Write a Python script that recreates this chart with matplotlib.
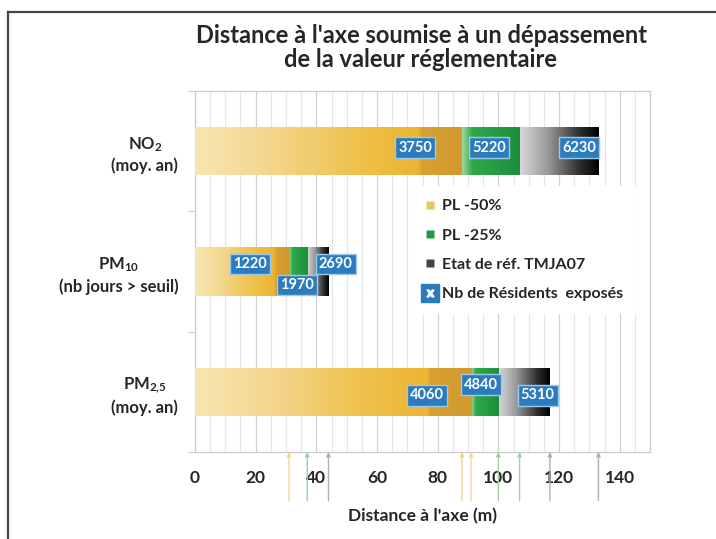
import numpy as np
import matplotlib
matplotlib.use("Agg")
import matplotlib.pyplot as plt
from matplotlib.colors import LinearSegmentedColormap
from matplotlib.lines import Line2D
from matplotlib.legend_handler import HandlerTuple

plt.rcParams['font.family'] = ['Lato', 'DejaVu Sans']
plt.rcParams['font.weight'] = 'bold'
plt.rcParams['mathtext.fontset'] = 'custom'
plt.rcParams['mathtext.rm'] = 'Lato:bold'
plt.rcParams['mathtext.it'] = 'Lato:bold'
plt.rcParams['mathtext.bf'] = 'Lato:bold'

# data
pollutants = ["NO$_2$\n(moy. an)", "PM$_{10}$\n(nb jours > seuil)", "PM$_{2,\\!5}$\n(moy. an)"]
series = ["PL -50%", "PL -25%", "Etat de réf. TMJA07"]
dist_pl50 = [88, 31, 91]
dist_pl25 = [107, 37, 100]
dist_ref = [133, 44, 117]
res_pl50 = [3750, 1220, 4060]
res_pl25 = [5220, 1970, 4840]
res_ref = [6230, 2690, 5310]
xticks = [0, 20, 40, 60, 80, 100, 120, 140]

# label placement (offset from bar end, in m / in category units)
lab_dx = [[-15.4, -10, -6.4], [-13, -3.4, 2.4], [-14.6, -5.7, -4]]
lab_dy = [[-0.03, -0.03, -0.03], [-0.06, 0.11, -0.06], [0.03, -0.06, 0.03]]

cmap_y = LinearSegmentedColormap.from_list("y", [(0, '#f7e6b4'), (0.3, '#f3d58a'), (0.6, '#efc24c'),
                                                 (0.84, '#ecb431'), (0.85, '#d9a032'), (1, '#d09a2e')])
cmap_g = LinearSegmentedColormap.from_list("g", [(0, '#a6d8a0'), (0.18, '#2fa84a'), (1, '#1c8e3c')])
cmap_k = LinearSegmentedColormap.from_list("k", [(0, '#d8d8d8'), (0.35, '#9a9a9a'), (0.75, '#303030'), (1, '#000000')])

txt = '#262626'
blue = '#2b7bbd'

fig = plt.figure(figsize=(7.16, 5.39), dpi=100)
ax = fig.add_axes([195/716, 1-452/539, 455/716, 361/539])

y = np.arange(len(pollutants))
h = 0.4


def gradient(patch, x0, x1, cmap, z):
    y0 = patch.get_y()
    g = np.linspace(0, 1, 256).reshape(1, -1)
    im = ax.imshow(g, cmap=cmap, aspect='auto', extent=(x0, x1, y0 + patch.get_height(), y0),
                   zorder=z, interpolation='bicubic')
    im.set_clip_path(patch)


b_ref = ax.barh(y, dist_ref, height=h, color='#000000', zorder=2)
b_25 = ax.barh(y, dist_pl25, height=h, color='#22a043', zorder=3)
b_50 = ax.barh(y, dist_pl50, height=h, color='#edb431', zorder=4)
for i in range(len(y)):
    gradient(b_ref[i], dist_pl25[i], dist_ref[i], cmap_k, 2.5)
    gradient(b_25[i], dist_pl50[i], dist_pl25[i], cmap_g, 3.5)
    gradient(b_50[i], 0, dist_pl50[i], cmap_y, 4.5)

# labels: number of exposed residents
for i in range(len(y)):
    ends = [dist_pl50[i], dist_pl25[i], dist_ref[i]]
    vals = [res_pl50[i], res_pl25[i], res_ref[i]]
    for j in range(3):
        ax.text(ends[j] + lab_dx[i][j], y[i] + lab_dy[i][j], str(vals[j]), ha='center', va='center',
                color='white', fontsize=10.5, fontweight='bold', zorder=7,
                bbox=dict(boxstyle='square,pad=0.22', fc=blue, ec='#9cc8ea', lw=1))

# arrows under the axis at each bar end
arrow_cols = ['#f0d892', '#9fd0a6', '#b0b0b0']
for j, d in enumerate([dist_pl50, dist_pl25, dist_ref]):
    for v in d:
        ax.annotate('', xy=(v, 0), xytext=(v, -0.135), xycoords=ax.get_xaxis_transform(),
                    textcoords=ax.get_xaxis_transform(), annotation_clip=False,
                    arrowprops=dict(arrowstyle='-|>', color=arrow_cols[j], lw=1, mutation_scale=6,
                                    shrinkA=0, shrinkB=0))

ax.set_xlim(0, 150)
ax.set_ylim(2.5, -0.5)
ax.set_xticks(xticks)
ax.set_xticks(np.arange(0, 151, 5), minor=True)
ax.set_yticks(y)
ax.set_yticklabels(pollutants, fontsize=12, color=txt, linespacing=1.3)
for t in ax.get_yticklabels():
    t.set_multialignment('center')
ax.set_yticks([-0.5, 0.5, 1.5, 2.5], minor=True)
ax.tick_params(axis='y', which='major', length=0, pad=12)
ax.tick_params(axis='y', which='minor', length=5, color='#c8c8c8')
ax.tick_params(axis='x', which='major', length=0, pad=13, labelsize=12.5, labelcolor=txt)
ax.tick_params(axis='x', which='minor', length=0)
ax.grid(True, axis='x', which='minor', color='#e6e6e6', lw=0.8)
ax.grid(True, axis='x', which='major', color='#d2d2d2', lw=0.9)
ax.set_axisbelow(True)
for s in ax.spines.values():
    s.set_color('#cccccc')
    s.set_linewidth(0.9)

ax.set_xlabel("Distance à l'axe (m)", fontsize=12.5, fontweight='bold', color=txt, labelpad=16)

handles = [Line2D([], [], ls='', marker='s', ms=6, mfc='#e5c766', mec='none'),
           Line2D([], [], ls='', marker='s', ms=6, mfc='#1e9a48', mec='none'),
           Line2D([], [], ls='', marker='s', ms=6, mfc='#444444', mec='none'),
           (Line2D([], [], ls='', marker='s', ms=13, mfc=blue, mec=blue),
            Line2D([], [], ls='', marker='$x$', ms=5, color='white'))]
labels = series + ["Nb de Résidents  exposés"]
leg = ax.legend(handles, labels, loc='upper left', bbox_to_anchor=(0.454, 0.758),
                handler_map={tuple: HandlerTuple(ndivide=1)}, frameon=True, fancybox=False,
                facecolor='white', edgecolor='none', framealpha=1, handlelength=0.9,
                handletextpad=0.35, labelspacing=0.95, borderpad=0.8,
                prop={'size': 11.5, 'weight': 'bold'})
for t in leg.get_texts():
    t.set_color(txt)

fig.text(421/716, 1-47.5/539, "Distance à l'axe soumise à un dépassement\nde la valeur réglementaire",
         ha='center', va='center', fontsize=17, fontweight='bold', color=txt, linespacing=1.1)

# outer frame (top and left edges visible)
fig.add_artist(Line2D([8/716, 1], [1-12/539, 1-12/539], transform=fig.transFigure, color='#444444', lw=1.6))
fig.add_artist(Line2D([8/716, 8/716], [0, 1-12/539], transform=fig.transFigure, color='#444444', lw=1.6))

fig.savefig("out.png", dpi=100)
